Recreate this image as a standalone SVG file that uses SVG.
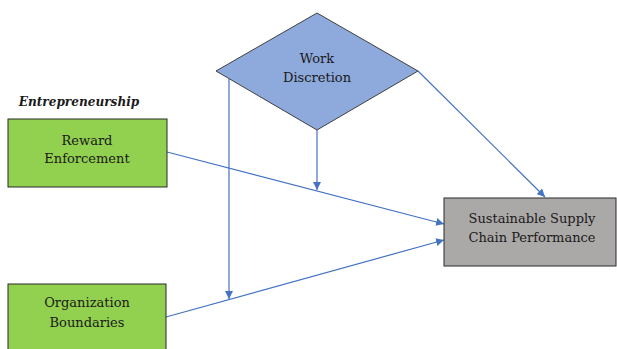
<svg xmlns="http://www.w3.org/2000/svg" width="617" height="349" viewBox="0 0 617 349">
<style>
text{font-family:"DejaVu Serif",serif;font-size:13px;fill:#1a1a1a;text-anchor:middle}
.g{fill:#92D050;stroke:#2b2b2b;stroke-width:1}
.c{stroke:#4472C4;stroke-width:1.2;fill:none;marker-end:url(#a)}
</style>
<defs>
<marker id="a" viewBox="0 0 10 10" refX="10" refY="5" markerWidth="8" markerHeight="8" markerUnits="userSpaceOnUse" orient="auto"><path d="M0,0L10,5L0,10z" fill="#4472C4"/></marker>
</defs>
<rect width="617" height="349" fill="#fff"/>
<g id="connectors">
<line class="c" x1="167" y1="152" x2="444" y2="224"/>
<line class="c" x1="166" y1="317" x2="444" y2="240"/>
<line class="c" x1="418" y1="71" x2="545" y2="197"/>
<line class="c" x1="317" y1="130" x2="317" y2="190"/>
<line class="c" x1="229" y1="79" x2="229" y2="299"/>
</g>
<g id="work-discretion">
<polygon points="317,13 418,71 317,130 216,71" fill="#8EA9DB" stroke="#404040" stroke-width="1"/>
<text x="317" y="63">Work</text>
<text x="317" y="82">Discretion</text>
</g>
<g id="entrepreneurship-label">
<text x="79" y="106" style="font-weight:bold;font-style:italic;font-size:12.1px">Entrepreneurship</text>
</g>
<g id="reward-enforcement">
<rect class="g" x="8" y="119" width="159" height="68"/>
<text x="87" y="145">Reward</text>
<text x="87" y="163">Enforcement</text>
</g>
<g id="organization-boundaries">
<rect class="g" x="8" y="284" width="158" height="70"/>
<text x="87" y="307">Organization</text>
<text x="87" y="327">Boundaries</text>
</g>
<g id="sscp">
<rect x="444" y="198" width="172" height="68" fill="#ABA8A8" stroke="#2b2b2b" stroke-width="1"/>
<text x="532" y="223">Sustainable Supply</text>
<text x="532" y="242">Chain Performance</text>
</g>
</svg>
